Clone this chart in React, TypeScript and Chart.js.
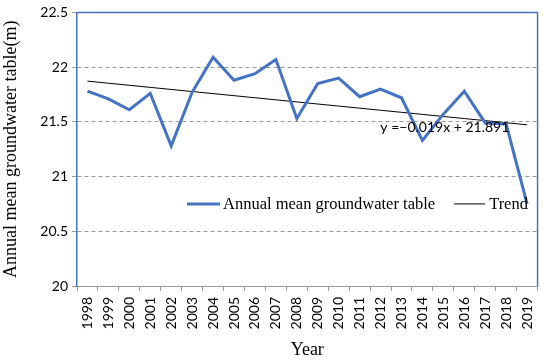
import React, { useEffect, useRef } from "react";
import { Chart, registerables } from "chart.js";

Chart.register(...registerables);

const years = ["1998","1999","2000","2001","2002","2003","2004","2005","2006","2007","2008","2009","2010","2011","2012","2013","2014","2015","2016","2017","2018","2019"];
const groundwater = [21.78,21.71,21.61,21.76,21.28,21.77,22.09,21.88,21.94,22.07,21.53,21.85,21.90,21.73,21.80,21.72,21.33,21.57,21.78,21.49,21.48,20.75];
const trendSlope = -0.019;
const trendIntercept = 21.891;
const trendValues = years.map((_, i) => +(trendSlope * (i + 1) + trendIntercept).toFixed(4));
const yTicks = [20, 20.5, 21, 21.5, 22, 22.5];
const equationText = "y =\u22120.019x + 21.891";

const BLUE = "#4472C4";
const SANS = "Lato";
const SERIF = "'Liberation Serif'";

const overlay = {
  id: "overlay",
  afterDraw(chart: any) {
    const { ctx, chartArea } = chart;
    const { left, right, top, bottom } = chartArea;
    ctx.save();
    ctx.strokeStyle = BLUE;
    ctx.lineWidth = 1.5;
    ctx.beginPath();
    ctx.moveTo(left, top);
    ctx.lineTo(right, top);
    ctx.lineTo(right, bottom);
    ctx.stroke();
    const ys = chart.scales.y;
    const xs = chart.scales.x;
    ctx.fillStyle = "#000";
    ctx.font = `14px ${SANS}`;
    ctx.textBaseline = "middle";
    ctx.textAlign = "left";
    ctx.fillText(equationText, xs.getPixelForValue(17) - 63, ys.getPixelForValue(21.45));
    const ly = ys.getPixelForValue(20.75);
    ctx.font = `16.5px ${SERIF}`;
    const ds = chart.data.datasets;
    let x = left + 110;
    ctx.strokeStyle = ds[0].borderColor;
    ctx.lineWidth = ds[0].borderWidth;
    ctx.beginPath();
    ctx.moveTo(x, ly);
    ctx.lineTo(x + 33, ly);
    ctx.stroke();
    ctx.fillText(ds[0].label, x + 36, ly + 1);
    x = x + 36 + ctx.measureText(ds[0].label).width + 19;
    ctx.strokeStyle = ds[1].borderColor;
    ctx.lineWidth = ds[1].borderWidth;
    ctx.beginPath();
    ctx.moveTo(x, ly);
    ctx.lineTo(x + 31, ly);
    ctx.stroke();
    ctx.fillText(ds[1].label, x + 35, ly + 1);
    ctx.restore();
  },
};

export default function App() {
  const ref = useRef<HTMLCanvasElement | null>(null);
  useEffect(() => {
    if (!ref.current) return;
    const chart = new Chart(ref.current, {
      type: "line",
      data: {
        labels: years,
        datasets: [
          {
            label: "Annual mean groundwater table",
            data: groundwater,
            borderColor: BLUE,
            borderWidth: 3,
            pointRadius: 0,
            tension: 0,
          },
          {
            label: "Trend",
            data: trendValues,
            borderColor: "#000",
            borderWidth: 1,
            pointRadius: 0,
            tension: 0,
          },
        ],
      },
      options: {
        animation: false,
        responsive: false,
        layout: { padding: { top: 11, right: 5, left: 0, bottom: 0 } },
        plugins: { legend: { display: false }, tooltip: { enabled: false } },
        scales: {
          x: {
            type: "category",
            offset: true,
            grid: { drawOnChartArea: false, drawTicks: true, tickLength: 5, tickColor: "#999", offset: true },
            border: { color: "#999", width: 1 },
            ticks: {
              minRotation: 90,
              maxRotation: 90,
              autoSkip: false,
              color: "#000",
              padding: 6,
              font: { family: SANS, size: 14 },
            },
            title: {
              display: true,
              text: "Year",
              color: "#000",
              font: { family: SERIF, size: 18 },
              padding: { top: 4, bottom: 0 },
            },
            afterFit: (s: any) => { s.height = 75; },
          },
          y: {
            min: 20,
            max: 22.5,
            afterBuildTicks: (s: any) => { s.ticks = yTicks.map((v) => ({ value: v })); },
            grid: {
              color: (c: any) => (c.tick && (c.tick.value === 20 || c.tick.value === 22.5) ? "rgba(0,0,0,0)" : "#999"),
              tickColor: "#999",
              tickLength: 5,
              lineWidth: 1,
            },
            border: { color: BLUE, width: 1.5, dash: [4, 3] },
            ticks: {
              color: "#000",
              padding: 4,
              font: { family: SANS, size: 14 },
              callback: (v: any) => String(v),
            },
            title: {
              display: true,
              text: "Annual mean groundwater table(m)",
              color: "#000",
              font: { family: SERIF, size: 18 },
              padding: { top: 0, bottom: 3 },
            },
            afterFit: (s: any) => { s.width = 77; },
          },
        },
      },
      plugins: [overlay],
    });
    return () => chart.destroy();
  }, []);
  return (
    <div style={{ position: "fixed", left: 0, top: 0, width: 550, height: 361, background: "#fff" }}>
      <canvas ref={ref} width={550} height={361} style={{ width: 550, height: 361 }} />
    </div>
  );
}
